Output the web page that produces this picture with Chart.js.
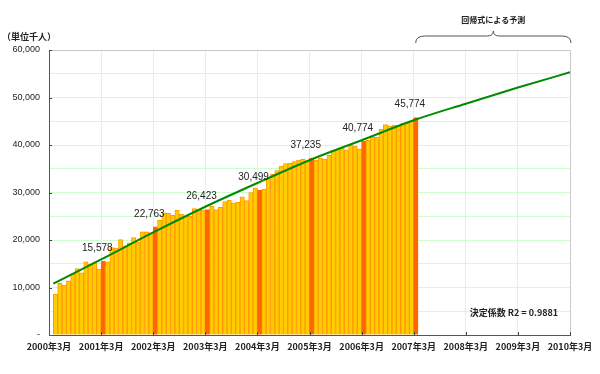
<!DOCTYPE html>
<html>
<head>
<meta charset="utf-8">
<script src="https://cdn.jsdelivr.net/npm/chart.js@4/dist/chart.umd.min.js"></script>
<style>
  html, body { margin: 0; padding: 0; background: #fff; }
  #wrap { position: relative; width: 600px; height: 374px; }
</style>
</head>
<body>
<div id="wrap"><canvas id="jschart"></canvas></div>
<script>
// monthly values, 2000年4月 .. 2007年3月 (unit: 千人)
const monthlyUsers = [
  8600, 10900, 10500, 11400, 12900, 14000, 13100, 15400, 14900, 15200, 13900, 15578,
  15400, 18400, 18300, 20100, 18700, 19400, 20500, 19600, 21700, 21700, 21500, 22763,
  24200, 25700, 25600, 25200, 26300, 25400, 25100, 25000, 26600, 26400, 26300, 26423,
  27100, 26400, 26900, 28100, 28400, 27800, 28000, 29100, 28300, 30000, 31000, 30499,
  30700, 33000, 33800, 34600, 35500, 36100, 36200, 36500, 36800, 37000, 36600, 37235,
  36800, 37200, 37000, 37800, 38800, 39100, 39400, 39000, 40000, 39700, 39200, 40774,
  41000, 41700, 41600, 43300, 44300, 44000, 44200, 44100, 44600, 44700, 45000, 45774
];
// regression curve (months since 2000年3月)
const trendMonths = [1, 12, 24, 36, 48, 60, 72, 84, 96, 108, 120];
const trendValues = [10800, 15900, 21600, 27000, 32000, 36800, 41000, 45200, 48700, 52100, 55300];
const tickLabels = ['2000年3月', '2001年3月', '2002年3月', '2003年3月', '2004年3月', '2005年3月',
  '2006年3月', '2007年3月', '2008年3月', '2009年3月', '2010年3月'];
const unitLabel = '（単位千人）';
const forecastLabel = '回帰式による予測';
const r2Label = '決定係数 R2 = 0.9881';

const jpFont = '"Noto Sans CJK JP", "Liberation Sans", sans-serif';
const numFont = '"Liberation Sans", Arial, sans-serif';

const barData = monthlyUsers.map((v, i) => ({ x: i + 1.5, y: v }));
const lineData = trendMonths.map((m, i) => ({ x: m, y: trendValues[i] }));

const isMarch = (i) => i % 12 === 11;

const decorations = {
  id: 'decorations',
  beforeDatasetsDraw(chart) {
    const { ctx, chartArea: a } = chart;
    ctx.save();
    ctx.strokeStyle = '#c8c8c8';
    ctx.lineWidth = 1;
    ctx.beginPath();
    ctx.moveTo(a.left, a.top + 0.5);
    ctx.lineTo(a.right + 0.5, a.top + 0.5);
    ctx.lineTo(a.right + 0.5, a.bottom);
    ctx.stroke();
    ctx.restore();
  },
  afterDatasetsDraw(chart) {
    const { ctx, chartArea: a, scales: { x, y } } = chart;
    ctx.save();

    // small inner ticks
    ctx.strokeStyle = '#444';
    ctx.lineWidth = 1;
    ctx.beginPath();
    for (let m = 12; m <= 120; m += 12) {
      const px = Math.round(x.getPixelForValue(m)) + 0.5;
      ctx.moveTo(px, a.bottom);
      ctx.lineTo(px, a.bottom - 3);
    }
    for (let v = 10000; v <= 60000; v += 10000) {
      const py = Math.round(y.getPixelForValue(v)) + 0.5;
      ctx.moveTo(a.left, py);
      ctx.lineTo(a.left + 3, py);
    }
    ctx.stroke();

    // value labels on March bars
    ctx.fillStyle = '#222';
    ctx.font = '10px ' + numFont;
    ctx.textAlign = 'center';
    ctx.textBaseline = 'middle';
    monthlyUsers.forEach((v, i) => {
      if (!isMarch(i)) return;
      const px = x.getPixelForValue(i + 1.5) - 6;
      const py = y.getPixelForValue(v) - 13;
      ctx.fillText(v.toLocaleString('en-US'), px, py);
    });

    // unit label
    ctx.font = 'bold 9px ' + jpFont;
    ctx.textAlign = 'left';
    ctx.fillText(unitLabel, 2, 37);

    // R2 note
    ctx.textAlign = 'center';
    ctx.font = 'bold 9px ' + jpFont;
    ctx.fillText(r2Label, 514, 313);

    // brace over forecast range
    const x0 = x.getPixelForValue(84) + 2;
    const x1 = x.getPixelForValue(120) + 1;
    const xm = (x0 + x1) / 2;
    const yb = 36, ye = 43, yp = 31;
    ctx.strokeStyle = '#555';
    ctx.beginPath();
    ctx.moveTo(x0, ye);
    ctx.quadraticCurveTo(x0, yb, x0 + 9, yb);
    ctx.lineTo(xm - 6, yb);
    ctx.quadraticCurveTo(xm, yb, xm, yp);
    ctx.quadraticCurveTo(xm, yb, xm + 6, yb);
    ctx.lineTo(x1 - 9, yb);
    ctx.quadraticCurveTo(x1, yb, x1, ye);
    ctx.stroke();

    ctx.fillStyle = '#222';
    ctx.font = 'bold 8px ' + jpFont;
    ctx.fillText(forecastLabel, xm, 20);
    ctx.restore();
  }
};

const ctx = document.getElementById('jschart');
new Chart(ctx, {
  type: 'bar',
  data: {
    datasets: [
      {
        type: 'line',
        data: lineData,
        borderColor: '#008a00',
        borderWidth: 2,
        pointRadius: 0,
        cubicInterpolationMode: 'monotone',
        order: 0,
      },
      {
        type: 'bar',
        data: barData,
        backgroundColor: (c) => isMarch(c.dataIndex) ? '#ff6600' : '#ffcc00',
        borderColor: (c) => isMarch(c.dataIndex) ? '#ff6600' : '#ff9900',
        borderWidth: 1,
        borderSkipped: 'bottom',
        barPercentage: 1,
        categoryPercentage: 1,
        order: 1,
      },
    ],
  },
  options: {
    responsive: true,
    maintainAspectRatio: false,
    animation: false,
    layout: { padding: { top: 50, left: 0, right: 30, bottom: 0 } },
    plugins: {
      legend: { display: false },
      tooltip: { enabled: false },
      title: { display: false },
    },
    scales: {
      x: {
        type: 'linear',
        min: 0,
        max: 120,
        offset: false,
        afterFit: (s) => { s.height = 39; },
        afterBuildTicks: (s) => {
          s.ticks = tickLabels.map((t, i) => ({ value: i * 12 }));
        },
        ticks: {
          autoSkip: false,
          maxRotation: 0,
          padding: 6,
          color: '#222',
          font: { family: jpFont, size: 9, weight: 'bold' },
          callback: (v) => tickLabels[v / 12],
        },
        grid: { color: '#ccffcc', drawTicks: false, offset: false },
        border: { color: '#555', width: 1 },
      },
      y: {
        min: 0,
        max: 60000,
        afterFit: (s) => { s.width = 49; },
        ticks: {
          stepSize: 5000,
          padding: 9,
          color: '#222',
          font: { family: numFont, size: 9 },
          callback: (v) => v === 0 ? '-' : (v % 10000 === 0 ? v.toLocaleString('en-US') : ''),
        },
        grid: { color: '#ccffcc', drawTicks: false },
        border: { color: '#555', width: 1 },
      },
    },
  },
  plugins: [decorations],
});
</script>
</body>
</html>
